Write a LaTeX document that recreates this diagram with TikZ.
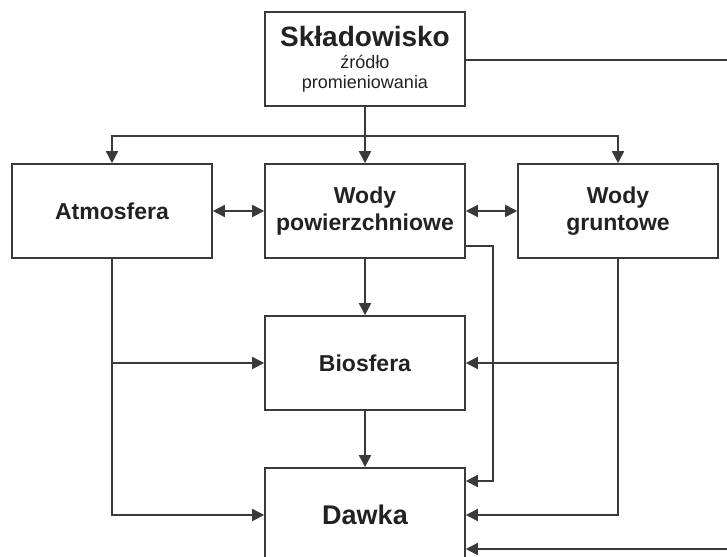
\documentclass[tikz,border=0pt]{standalone}
\usepackage{fontspec}
\setmainfont{Liberation Sans}
\usepackage{tikz}
\usetikzlibrary{arrows.meta}
\definecolor{linegray}{HTML}{3A3A3A}
\definecolor{textgray}{HTML}{222222}
\tikzset{
LINE/.style ={draw=linegray,line join=miter,line cap=butt,line width=1.6pt},
FLOW/.style ={LINE,-{Triangle[length=12pt,width=12pt]}},
BIFLOW/.style ={LINE,{Triangle[length=12pt,width=12pt]}-{Triangle[length=12pt,width=12pt]}},
BOX/.style ={draw=linegray,line width=1.6pt,fill=white,minimum width=200pt,minimum height=94pt,inner sep=0pt,align=center,text=textgray,font=\fontsize{23}{27}\selectfont\bfseries},
}

\begin{document}
\begin{tikzpicture}[x=1pt,y=-1pt]
	\clip (0,0) rectangle (727,556);
	\fill[white] (0,0) rectangle (727,556);
	\node[BOX,font=\fontsize{18}{20}\selectfont] (sklad) at (365,59) {{\fontsize{28}{22}\selectfont\bfseries Składowisko}\\[2pt]źródło\\promieniowania};
	\node[BOX] (atmo) at (112,211) {Atmosfera};
	\node[BOX] (wpow) at (365,211) {Wody\\powierzchniowe};
	\node[BOX] (wgrunt) at (618,211) {Wody\\gruntowe};
	\node[BOX] (bio) at (365,363) {Biosfera};
	\node[BOX,font=\fontsize{27}{30}\selectfont\bfseries] (dawka) at (365,515) {Dawka};
	\coordinate (split) at (365,136);
	\coordinate (edgetop) at (727,60);
	\coordinate (edgebot) at (727,549);
	\path[LINE] (sklad.south) -- (split);
	\path[FLOW] (split) -| (atmo.north);
	\path[FLOW] (split) -- (wpow.north);
	\path[FLOW] (split) -| (wgrunt.north);
	\path[LINE] (sklad.east |- edgetop) -- (edgetop);
	\path[BIFLOW] (atmo.east) -- (wpow.west);
	\path[BIFLOW] (wpow.east) -- (wgrunt.west);
	\path[FLOW] (wpow.south) -- (bio.north);
	\path[FLOW] (bio.south) -- (dawka.north);
	\path[FLOW] (atmo.south) |- (dawka.west);
	\path[FLOW] (atmo.south |- bio.west) -- (bio.west);
	\path[FLOW] (wgrunt.south) |- (dawka.east);
	\path[FLOW] (wgrunt.south |- bio.east) -- (bio.east);
	\path[FLOW] ([yshift=13pt]wpow.south east) -- ++(27,0) |- ([yshift=34pt]dawka.east);
	\path[FLOW] (edgebot) -- (dawka.east |- edgebot);
\end{tikzpicture}
\end{document}
